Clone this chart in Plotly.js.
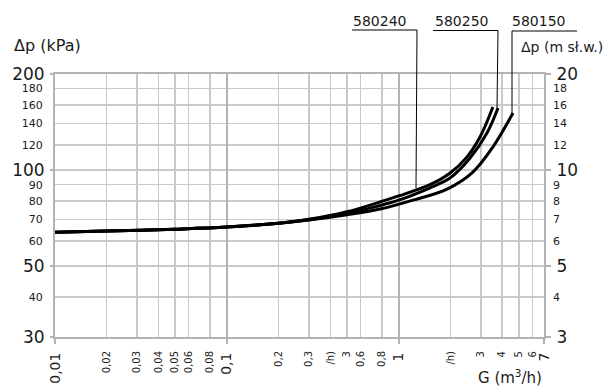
<!DOCTYPE html>
<html><head><meta charset="utf-8">
<script src="https://cdn.plot.ly/plotly-3.0.1.min.js"></script>
<style>body{margin:0;background:#fff}#chart{width:606px;height:388px}</style>
</head><body><div id="chart"></div>
<script>
// ---- data (G in m3/h, dp in kPa) ----
const g_580240 = [0.01, 0.02, 0.05, 0.1, 0.2, 0.3, 0.5, 0.78, 1.0, 1.52, 1.99, 2.49, 2.97, 3.53];
const p_580240 = [63.9, 64.4, 65.3, 66.3, 68.2, 70.1, 74.0, 79.5, 83.0, 90.0, 97.9, 109.8, 126.9, 157.6];
const g_580250 = [0.01, 0.02, 0.05, 0.1, 0.2, 0.3, 0.5, 0.78, 1.0, 1.52, 1.985, 2.6, 3.26, 3.78];
const p_580250 = [63.9, 64.4, 65.3, 66.3, 68.2, 69.9, 73.0, 77.5, 80.5, 88.0, 94.4, 109.1, 130.6, 156.5];
const g_580150 = [0.01, 0.02, 0.05, 0.1, 0.2, 0.3, 0.5, 0.78, 1.21, 1.91, 2.70, 3.53, 4.62];
const p_580150 = [63.9, 64.4, 65.3, 66.3, 68.2, 69.8, 72.5, 75.5, 80.5, 87.2, 98.6, 118.1, 150.9];
const seriesNames = ['580240', '580250', '580150'];

// ---- tick labels ----
const xMinorVals = [0.02,0.03,0.04,0.05,0.06,0.08,0.2,0.3,0.4,0.5,0.6,0.8,2,3,4,5,6];
const xMinorText = ['0,02','0,03','0,04','0,05','0,06','0,08','0,2','0,3','/h)','3','0,6','0,8','/h)','3','4','5','6'];
const xMajorVals = [0.01, 0.1, 1, 7];
const xMajorText = ['0,01', '0,1', '1', '7'];
const yMinorVals = [40, 60, 70, 80, 90, 120, 140, 160, 180];
const yMajorVals = [30, 50, 100, 200];
const y2MinorVals = [4, 6, 7, 8, 9, 12, 14, 16, 18];
const y2MajorVals = [3, 5, 10, 20];

const FONT = 'DejaVu Sans';
const INK = '#1a1a1a';
const GRID = '#c9c9c9';
const AX = '#b3b3b3';

const xr = [Math.log10(0.01), Math.log10(7)];
const yr = [Math.log10(30), Math.log10(200)];
const y2r = [Math.log10(3), Math.log10(20)];

const mk = (g, p, n) => ({x: g, y: p, name: n, type: 'scatter', mode: 'lines',
  line: {color: '#000', width: 3, shape: 'spline', smoothing: 1}, hoverinfo: 'skip', xaxis: 'x', yaxis: 'y'});
const data = [mk(g_580240, p_580240, seriesNames[0]), mk(g_580250, p_580250, seriesNames[1]), mk(g_580150, p_580150, seriesNames[2])];
// invisible helper traces so that the overlaid tick/grid axes get drawn
const helper = (xa, ya, yv) => ({x: g_580150, y: yv, xaxis: xa, yaxis: ya, type: 'scatter', mode: 'markers',
  marker: {opacity: 0, size: 1}, hoverinfo: 'skip', showlegend: false});
data.push(helper('x2', 'y', p_580150));
data.push(helper('x', 'y3', p_580150));
data.push(helper('x', 'y2', p_580150.map(v => v / 10)));
data.push(helper('x', 'y4', p_580150.map(v => v / 10)));

// paper helpers from plot-area pixel geometry
const L = 55, R = 544, T = 74, B = 337;
const px = v => (v - L) / (R - L);
const py = v => (B - v) / (B - T);

const leader = (x0, y0, x1, y1) => ({type: 'line', xref: 'paper', yref: 'paper', x0: px(x0), y0: py(y0), x1: px(x1), y1: py(y1), line: {color: '#000', width: 1}});
const shapes = [
  leader(352, 30, 417, 30), leader(417, 30, 416, 188),
  leader(433, 30.5, 498, 30.5), leader(498, 30.5, 497, 108),
  leader(512, 31, 577, 31), leader(512, 31, 512, 113)
];
const ann = (t, x, y, xa, size) => ({text: t, xref: 'paper', yref: 'paper', x: px(x), y: py(y), xanchor: xa, yanchor: 'middle', showarrow: false, font: {family: FONT, size: size, color: INK}});
const annotations = [
  ann(seriesNames[0], 379, 21, 'center', 14),
  ann(seriesNames[1], 461, 21, 'center', 14),
  ann(seriesNames[2], 538, 21, 'center', 14),
  ann('Δp (kPa)', 12, 45, 'left', 16),
  ann('Δp (m sł.w.)', 519, 47, 'left', 14),
  ann('G (m<sup>3</sup>/h)', 476, 377, 'left', 15)
];

const layout = {
  width: 606, height: 388, margin: {l: L, r: 606 - R, t: T, b: 388 - B},
  paper_bgcolor: '#fff', plot_bgcolor: '#fff', showlegend: false,
  font: {family: FONT, color: INK},
  xaxis: {type: 'log', range: xr, tickmode: 'array', tickvals: xMinorVals, ticktext: xMinorText,
    tickangle: -90, tickfont: {size: 10, color: INK}, ticks: '', showgrid: true, gridcolor: GRID, gridwidth: 1.5,
    showline: true, linecolor: AX, linewidth: 2, mirror: true, zeroline: false, ticklabelstandoff: 8},
  xaxis2: {type: 'log', range: xr, overlaying: 'x', anchor: 'y', side: 'bottom', tickmode: 'array',
    tickvals: xMajorVals, ticktext: xMajorText, tickangle: -90, tickfont: {size: 14, color: INK},
    ticks: 'outside', ticklen: 6, tickwidth: 2, tickcolor: AX, showgrid: true, gridcolor: AX, gridwidth: 2,
    showline: false, zeroline: false, ticklabelstandoff: 3},
  yaxis: {type: 'log', range: yr, tickmode: 'array', tickvals: yMinorVals, ticktext: yMinorVals.map(String),
    tickfont: {size: 11, color: INK}, ticks: '', showgrid: true, gridcolor: GRID, gridwidth: 1.5,
    showline: true, linecolor: AX, linewidth: 2, mirror: true, zeroline: false, ticklabelstandoff: 8},
  yaxis3: {type: 'log', range: yr, overlaying: 'y', anchor: 'x', side: 'left', tickmode: 'array',
    tickvals: yMajorVals, ticktext: yMajorVals.map(String), tickfont: {size: 17, color: INK},
    ticks: 'outside', ticklen: 4, tickwidth: 2, tickcolor: AX, showgrid: true, gridcolor: GRID, gridwidth: 1.5,
    showline: false, zeroline: false, ticklabelstandoff: 2},
  yaxis2: {type: 'log', range: y2r, overlaying: 'y', anchor: 'x', side: 'right', tickmode: 'array',
    tickvals: y2MinorVals, ticktext: y2MinorVals.map(String), tickfont: {size: 11, color: INK},
    ticks: '', showgrid: false, showline: false, zeroline: false, ticklabelstandoff: 8},
  yaxis4: {type: 'log', range: y2r, overlaying: 'y', anchor: 'x', side: 'right', tickmode: 'array',
    tickvals: y2MajorVals, ticktext: y2MajorVals.map(String), tickfont: {size: 17, color: INK},
    ticks: 'outside', ticklen: 6, tickwidth: 2, tickcolor: AX, showgrid: false, showline: false, zeroline: false, ticklabelstandoff: 2},
  shapes: shapes,
  annotations: annotations
};

Plotly.newPlot('chart', data, layout, {staticPlot: true, displayModeBar: false});
</script>
</body></html>
